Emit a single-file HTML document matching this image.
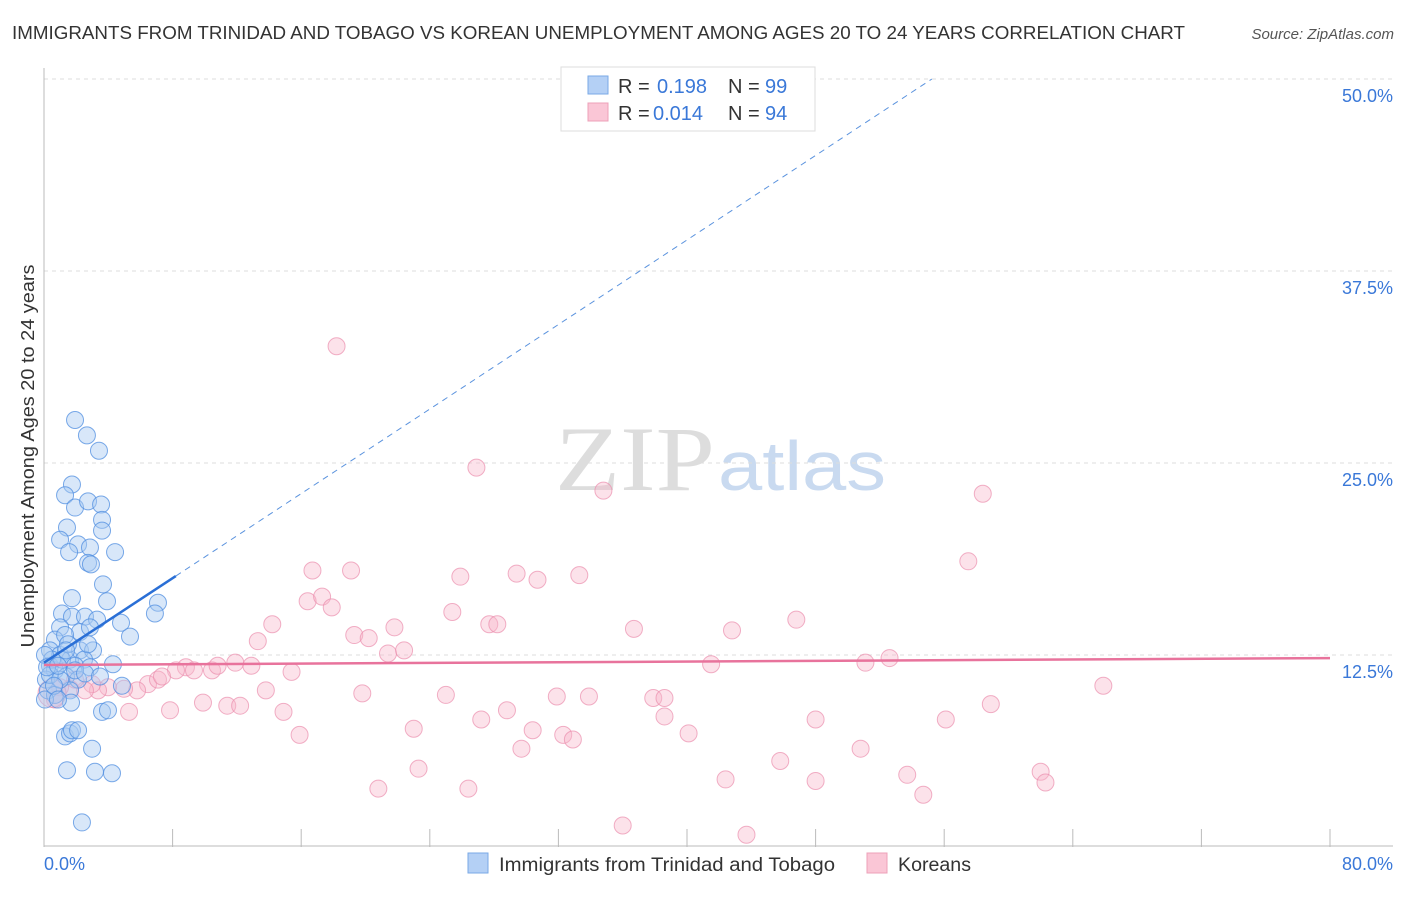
<!DOCTYPE html>
<html><head><meta charset="utf-8">
<style>
body{margin:0;background:#fff;font-family:"Liberation Sans",sans-serif;}
svg text{font-family:"Liberation Sans",sans-serif;}
</style></head>
<body>
<svg id="chart" width="1406" height="892">
<text x="12" y="39" font-size="18" textLength="1173" lengthAdjust="spacingAndGlyphs" fill="#333">IMMIGRANTS FROM TRINIDAD AND TOBAGO VS KOREAN UNEMPLOYMENT AMONG AGES 20 TO 24 YEARS CORRELATION CHART</text>
<text x="1394" y="39" font-size="15" fill="#555" font-style="italic" text-anchor="end">Source: ZipAtlas.com</text>
<text x="555" y="490" font-size="92" textLength="160" lengthAdjust="spacingAndGlyphs" fill="#ddd" style="font-family:'Liberation Serif',serif">ZIP</text>
<text x="718" y="490" font-size="70" textLength="168" lengthAdjust="spacingAndGlyphs" fill="#c9daf0">atlas</text>
<g id="grid"></g>
<g id="axes"></g>
<g id="pts"></g>
<g id="trend"></g>
<text transform="translate(34,456) rotate(-90)" font-size="18" textLength="383" lengthAdjust="spacingAndGlyphs" fill="#333" text-anchor="middle">Unemployment Among Ages 20 to 24 years</text>
<g>
<rect x="561" y="67" width="254" height="64" fill="#fff" stroke="#ddd"/>
<rect x="588" y="76" width="20" height="18" fill="#b4d0f5" stroke="#7aa9e6"/>
<text x="618" y="93" font-size="20" fill="#333">R = </text><text x="657" y="93" font-size="20" fill="#3a78d8">0.198</text>
<text x="728" y="93" font-size="20" fill="#333">N = </text><text x="765" y="93" font-size="20" fill="#3a78d8">99</text>
<rect x="588" y="103" width="20" height="18" fill="#fac6d6" stroke="#eda0b8"/>
<text x="618" y="120" font-size="20" fill="#333">R = </text><text x="653" y="120" font-size="20" fill="#3a78d8">0.014</text>
<text x="728" y="120" font-size="20" fill="#333">N = </text><text x="765" y="120" font-size="20" fill="#3a78d8">94</text>
</g>
<g>
<rect x="468" y="853" width="20" height="20" fill="#b4d0f5" stroke="#7aa9e6"/>
<text x="499" y="871" font-size="19" textLength="336" lengthAdjust="spacingAndGlyphs" fill="#333">Immigrants from Trinidad and Tobago</text>
<rect x="867" y="853" width="20" height="20" fill="#fac6d6" stroke="#eda0b8"/>
<text x="898" y="871" font-size="19" textLength="73" lengthAdjust="spacingAndGlyphs" fill="#333">Koreans</text>
</g>
</svg>
<script>
const blueX=[1.93,2.67,3.42,1.74,1.31,1.93,2.74,3.55,3.61,3.61,1.43,1.0,2.12,2.86,4.42,1.56,2.74,2.92,3.67,1.74,3.92,7.09,6.9,1.12,1.74,2.55,3.3,4.79,5.35,1.0,2.24,2.86,0.68,1.31,0.37,1.0,1.62,2.24,3.05,2.49,0.37,0.68,1.12,1.93,1.37,2.12,2.86,4.29,0.12,0.25,0.68,1.62,1.93,4.85,3.61,3.98,1.68,1.31,1.62,1.74,2.12,2.99,1.43,3.17,4.23,2.36,0.37,0.5,1.0,0.06,0.62,0.87,2.74,1.49,0.06,0.19,0.87,1.37,2.55,3.48];
const blueY=[27.8,26.8,25.8,23.6,22.9,22.1,22.5,22.3,21.3,20.6,20.8,20.0,19.7,19.5,19.2,19.2,18.5,18.4,17.1,16.2,16.0,15.9,15.2,15.2,15.0,15.0,14.8,14.6,13.7,14.3,14.0,14.3,13.5,13.8,12.8,12.5,12.2,12.8,12.8,12.2,11.8,11.5,12.2,11.8,11.1,10.9,11.7,11.9,10.9,10.2,9.9,10.2,11.5,10.5,8.8,8.9,9.4,7.2,7.4,7.6,7.6,6.4,5.0,4.9,4.8,1.6,11.2,12.2,10.9,9.6,10.5,9.6,13.2,13.2,12.5,11.7,11.8,12.8,11.3,11.1];
const pinkX=[18.2,47.2,26.9,34.8,58.4,57.5,16.7,19.1,25.9,29.4,30.7,33.3,16.4,17.3,17.9,25.4,27.7,28.2,21.8,14.2,13.3,19.3,20.2,21.4,22.4,36.7,42.8,46.8,41.5,51.1,52.6,65.9,8.83,8.21,10.45,9.33,11.9,12.9,10.8,15.4,13.8,19.8,25.0,31.9,33.9,37.9,38.6,6.47,7.09,7.34,5.79,4.98,3.98,3.36,2.99,2.55,1.62,1.0,1.93,7.84,5.29,9.89,11.4,12.2,14.9,15.9,23.0,27.2,28.8,30.4,29.7,32.3,32.9,38.6,40.1,48.0,50.8,56.1,58.9,45.8,42.4,48.0,53.7,54.7,62.0,62.3,20.8,26.4,23.3,36.0,43.7,0.68,0.5];
const pinkY=[32.6,47.5,24.7,23.2,23.0,18.6,18.0,18.0,17.6,17.8,17.4,17.7,16.0,16.3,15.6,15.3,14.5,14.5,14.3,14.5,13.4,13.8,13.6,12.6,12.8,14.2,14.1,14.8,11.9,12.0,12.3,10.5,11.7,11.5,11.5,11.5,12.0,11.8,11.8,11.4,10.2,10.0,9.9,9.8,9.8,9.7,9.7,10.6,10.9,11.1,10.2,10.3,10.4,10.2,10.6,10.2,10.3,10.4,10.9,8.9,8.8,9.4,9.2,9.2,8.8,7.3,7.7,8.3,8.9,7.6,6.4,7.3,7.0,8.5,7.4,8.3,6.4,8.3,9.3,5.6,4.4,4.3,4.7,3.4,4.9,4.2,3.8,3.8,5.1,1.4,0.8,9.6,10.0];
const yTicks=[12.5,25.0,37.5,50.0];
const xTickVals=[0,8,16,24,32,40,48,56,64,72,80];
const blueTrend=[12.0,0.688];
const pinkTrend=[11.85,0.0056];

const X0=44,X1=1330,Y0=847,YPER=192/12.5;
const sx=v=>X0+(v/80)*(X1-X0);
const sy=v=>Y0-v*YPER;
const NS='http://www.w3.org/2000/svg';
function mk(tag,attrs,parent){const e=document.createElementNS(NS,tag);for(const k in attrs)e.setAttribute(k,attrs[k]);parent.appendChild(e);return e;}
const grid=document.getElementById('grid'),axes=document.getElementById('axes'),pts=document.getElementById('pts'),trend=document.getElementById('trend');
yTicks.forEach(t=>{
  const l=mk('line',{x1:X0,x2:1393,y1:sy(t),y2:sy(t),stroke:'#ddd','stroke-dasharray':'4,4'},grid);
  
  
  const tx=mk('text',{x:1393,y:sy(t)+23,'font-size':18,fill:'#3a78d8','text-anchor':'end'},grid);
  tx.textContent=t.toFixed(1)+'%';
  
  
});
const ax=mk('line',{x1:X0,x2:X0,y1:68,y2:Y0,stroke:'#bbb'},axes);


const bx=mk('line',{x1:X0,x2:1393,y1:Y0-1,y2:Y0-1,stroke:'#bbb'},axes);


xTickVals.forEach(t=>{if(t===0)return;
  const l=mk('line',{x1:sx(t),x2:sx(t),y1:Y0-18,y2:Y0,stroke:'#bbb'},axes);
  
  
});
const xl=mk('text',{x:44,y:870,'font-size':18,fill:'#3a78d8'},axes);xl.textContent='0.0%';


const xr=mk('text',{x:1393,y:870,'font-size':18,fill:'#3a78d8','text-anchor':'end'},axes);xr.textContent='80.0%';



pinkX.forEach((v,i)=>{
  const c=mk('circle',{cx:sx(v),cy:sy(pinkY[i]),r:i===pinkX.length-1?14:8.5,fill:'#f7b6ca','fill-opacity':0.4,stroke:'#eb8fae','stroke-opacity':0.7},pts);
  
  
});
blueX.forEach((v,i)=>{
  const c=mk('circle',{cx:sx(v),cy:sy(blueY[i]),r:8.5,fill:'#a9c9f2','fill-opacity':0.45,stroke:'#4f8ee0','stroke-opacity':0.75},pts);
  
  
});
const pt=mk('line',{x1:sx(0),y1:sy(pinkTrend[0]),x2:sx(80),y2:sy(pinkTrend[0]+pinkTrend[1]*80),stroke:'#e8739c','stroke-width':2.5},trend);


const bEnd=(50-blueTrend[0])/blueTrend[1];
const bd=mk('line',{x1:sx(8.2),y1:sy(blueTrend[0]+blueTrend[1]*8.2),x2:sx(bEnd),y2:sy(50),stroke:'#5b93de','stroke-width':1,'stroke-dasharray':'6,5'},trend);


const bs=mk('line',{x1:sx(0),y1:sy(blueTrend[0]),x2:sx(8.2),y2:sy(blueTrend[0]+blueTrend[1]*8.2),stroke:'#2a6fd6','stroke-width':2.5},trend);


</script>
</body></html>
